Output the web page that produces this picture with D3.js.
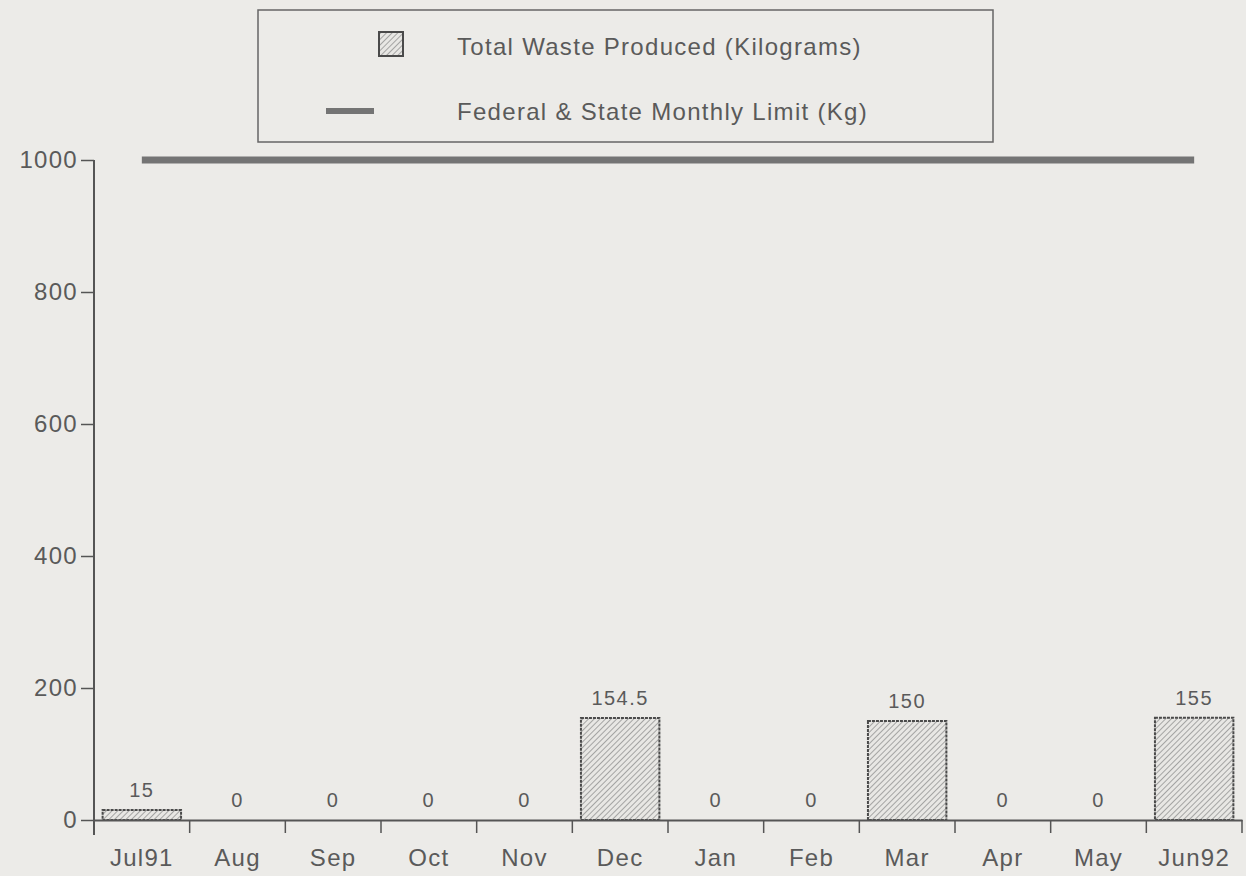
<!DOCTYPE html>
<html><head><meta charset="utf-8">
<script src="https://cdn.jsdelivr.net/npm/d3@7"></script>
<style>body{margin:0;background:#ecebe8;} svg{display:block;}</style>
</head><body>
<script>
const categories = ["Jul91","Aug","Sep","Oct","Nov","Dec","Jan","Feb","Mar","Apr","May","Jun92"];
const wasteValues = [15,0,0,0,0,154.5,0,0,150,0,0,155];
const valueLabels = ["15","0","0","0","0","154.5","0","0","150","0","0","155"];
const limitValues = [1000,1000,1000,1000,1000,1000,1000,1000,1000,1000,1000,1000];
const yTicks = [0,200,400,600,800,1000];
const legendLabels = ["Total Waste Produced (Kilograms)","Federal & State Monthly Limit (Kg)"];

const W=1246,H=876;
const svg=d3.select("body").append("svg").attr("width",W).attr("height",H);
svg.append("rect").attr("width",W).attr("height",H).attr("fill","#ecebe8");
const font="'Liberation Sans', Arial, sans-serif";
const ink="#5a5a5a";

const defs=svg.append("defs");
const pat=defs.append("pattern").attr("id","hatch").attr("patternUnits","userSpaceOnUse")
 .attr("width",4).attr("height",4).attr("patternTransform","rotate(45)");
pat.append("rect").attr("width",4).attr("height",4).attr("fill","#e8e7e4");
pat.append("line").attr("x1",0).attr("y1",0).attr("x2",0).attr("y2",4).attr("stroke","#777").attr("stroke-width",1.2);

const x=d3.scaleBand().domain(categories).range([94,1242]).paddingInner(0.18).paddingOuter(0.09);
const xb=d3.scaleBand().domain(categories).range([94,1242]);
const y=d3.scaleLinear().domain([0,1000]).range([820,160]);

// bars
svg.selectAll("rect.bar").data(wasteValues).join("rect").attr("class","bar")
 .attr("x",(d,i)=>x(categories[i])).attr("width",x.bandwidth())
 .attr("y",d=>y(d)).attr("height",d=>y(0)-y(d))
 .attr("fill","url(#hatch)").attr("stroke","#4a4a4a").attr("stroke-width",2)
 .attr("stroke-dasharray","3,1")
 .attr("display",d=>d>0?null:"none");

// value labels
svg.selectAll("text.val").data(wasteValues).join("text").attr("class","val")
 .attr("x",(d,i)=>xb(categories[i])+xb.bandwidth()/2)
 .attr("y",d=>y(d)-13).attr("text-anchor","middle")
 .attr("font-family",font).attr("font-size",20).attr("letter-spacing",1.5).attr("fill",ink)
 .text((d,i)=>valueLabels[i]);

// y axis
const ya=svg.append("g").attr("transform","translate(94,0)")
 .call(d3.axisLeft(y).tickValues(yTicks).tickSize(13).tickPadding(3).tickFormat(d3.format("d")));
ya.select(".domain").attr("stroke","#555").attr("stroke-width",2).attr("d","M0,160V835");
ya.selectAll(".tick line").attr("stroke","#555").attr("stroke-width",1.5);
ya.selectAll("text").attr("font-family",font).attr("font-size",24).attr("letter-spacing",1.3).attr("fill",ink);

// x axis
const xa=svg.append("g").attr("transform","translate(0,820)")
 .call(d3.axisBottom(xb).tickSize(0).tickPadding(29));
xa.select(".domain").attr("stroke","#555").attr("stroke-width",2);
xa.selectAll("text").attr("font-family",font).attr("font-size",24).attr("letter-spacing",1.3).attr("fill",ink);
xa.selectAll("line.bt").data(categories).join("line").attr("class","bt")
 .attr("x1",d=>xb(d)+xb.bandwidth()).attr("x2",d=>xb(d)+xb.bandwidth())
 .attr("y1",0).attr("y2",13).attr("stroke","#555").attr("stroke-width",1.5);
xa.append("line").attr("x1",94).attr("x2",94).attr("y1",0).attr("y2",15).attr("stroke","#555").attr("stroke-width",2);

// limit line
const line=d3.line().x((d,i)=>xb(categories[i])+xb.bandwidth()/2).y(d=>y(d));
svg.append("path").datum(limitValues).attr("d",line).attr("fill","none")
 .attr("stroke","#747474").attr("stroke-width",7);

// legend
const lg=svg.append("g");
lg.append("rect").attr("x",258).attr("y",10).attr("width",735).attr("height",132)
 .attr("fill","none").attr("stroke","#666").attr("stroke-width",1.5);
lg.append("rect").attr("x",379).attr("y",32).attr("width",24).attr("height",24)
 .attr("fill","url(#hatch)").attr("stroke","#4a4a4a").attr("stroke-width",2);
lg.append("line").attr("x1",326).attr("x2",374).attr("y1",111).attr("y2",111)
 .attr("stroke","#747474").attr("stroke-width",6);
lg.selectAll("text").data(legendLabels).join("text")
 .attr("x",457).attr("y",(d,i)=>[55,120][i])
 .attr("font-family",font).attr("font-size",24).attr("letter-spacing",1.3).attr("fill",ink).text(d=>d);
</script>
</body></html>
